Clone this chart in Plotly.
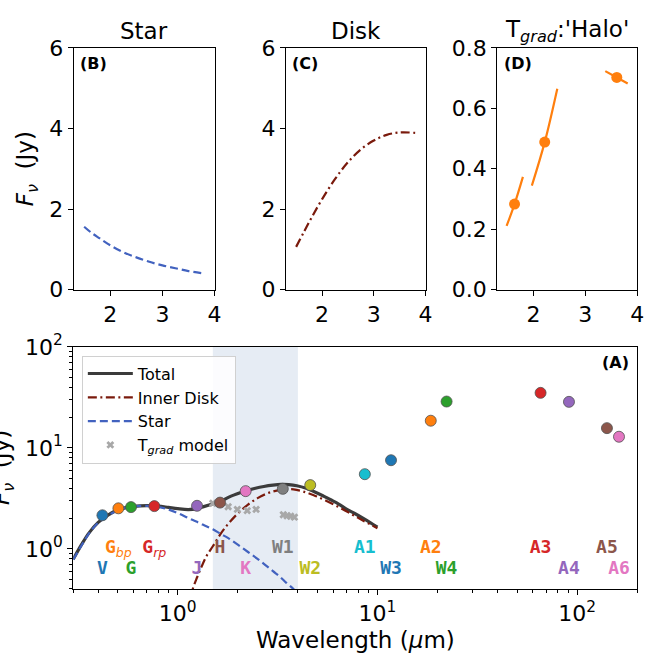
import plotly.graph_objects as go

# ---------------- data ----------------
SUBSTY = '<span style="font-family:DejaVu Sans;font-weight:normal"><i>{}</i></span>'
band_labels = ["V", "G<sub>" + SUBSTY.format("bp") + "</sub>", "G", "G<sub>" + SUBSTY.format("rp") + "</sub>",
               "J", "H", "K", "W1", "W2", "A1", "W3", "A2", "W4", "A3", "A4", "A5", "A6"]
band_wl = [0.42, 0.505, 0.584, 0.764, 1.25, 1.63, 2.19, 3.36, 4.61, 8.65, 11.7, 18.5, 22.2, 65.6, 91.0, 141.0, 162.0]
band_flux = [2.15, 2.52, 2.59, 2.65, 2.67, 2.87, 3.73, 3.93, 4.28, 5.49, 7.55, 18.6, 28.8, 35.1, 28.6, 15.7, 12.9]
band_colors = ["#1f77b4", "#ff7f0e", "#2ca02c", "#d62728", "#9467bd", "#8c564b", "#e377c2", "#7f7f7f",
               "#bcbd22", "#17becf", "#1f77b4", "#ff7f0e", "#2ca02c", "#d62728", "#9467bd", "#8c564b", "#e377c2"]
band_label_y = [0.62, 1.0, 0.62, 1.0, 0.62, 1.0, 0.62, 1.0, 0.62, 1.0, 0.62, 1.0, 0.62, 1.0, 0.62, 1.0, 0.62]

total_wl = [0.30, 0.33, 0.36, 0.40, 0.45, 0.50, 0.55, 0.60, 0.70, 0.80, 0.90, 1.00, 1.13, 1.25, 1.35,
            1.50, 1.65, 1.85, 2.15, 2.45, 2.70, 3.00, 3.30, 3.60, 3.95, 4.40, 4.80, 5.30, 5.80, 6.40,
            7.00, 7.70, 8.50, 9.20, 10.0]
total_fl = [0.79, 1.10, 1.44, 1.83, 2.17, 2.42, 2.56, 2.63, 2.68, 2.65, 2.57, 2.50, 2.45, 2.50, 2.62,
            2.80, 2.98, 3.33, 3.70, 3.98, 4.15, 4.28, 4.35, 4.33, 4.22, 3.98, 3.70, 3.38, 3.08, 2.78,
            2.48, 2.24, 2.00, 1.82, 1.64]

disk_wl = [1.15, 1.19, 1.25, 1.31, 1.40, 1.50, 1.65, 1.80, 2.00, 2.25, 2.50, 2.75, 3.00, 3.25, 3.50,
           3.80, 4.20, 4.80, 5.50, 6.50, 7.50, 8.50, 10.0]
disk_fl = [0.30, 0.40, 0.52, 0.65, 0.86, 1.06, 1.43, 1.79, 2.24, 2.74, 3.16, 3.48, 3.70, 3.84, 3.90,
           3.89, 3.72, 3.40, 3.02, 2.55, 2.18, 1.90, 1.60]

star_wl = [0.30, 0.33, 0.36, 0.40, 0.45, 0.50, 0.55, 0.60, 0.70, 0.80, 0.90, 1.00, 1.13, 1.25, 1.40,
           1.50, 1.65, 1.80, 2.00, 2.25, 2.50, 2.75, 3.00, 3.25, 3.50, 3.80, 4.00]
star_fl = [0.78, 1.08, 1.42, 1.82, 2.15, 2.40, 2.55, 2.63, 2.66, 2.60, 2.45, 2.26, 2.02, 1.85, 1.66,
           1.56, 1.40, 1.27, 1.10, 0.93, 0.80, 0.69, 0.60, 0.53, 0.46, 0.40, 0.36]

tgrad_wl = [1.50, 1.79, 1.99, 2.23, 2.47, 3.38, 3.53, 3.68, 3.84]
tgrad_fl = [2.83, 2.61, 2.46, 2.39, 2.46, 2.18, 2.13, 2.10, 2.06]

halo_wl = [1.637, 2.218, 3.606]
halo_fl = [0.283, 0.488, 0.702]
halo_seg_wl = [[1.484, 1.637, 1.798], [1.97, 2.218, 2.46], [3.384, 3.606, 3.816]]
halo_seg_fl = [[0.211, 0.283, 0.373], [0.344, 0.488, 0.665], [0.723, 0.702, 0.682]]

zoom_lo, zoom_hi = 1.5, 3.8

# ---------------- style ----------------
W, H = 670, 668
FONT = "DejaVu Sans"
TICK = 22
TITLE = 23
C_TOTAL = "#3b3b3b"
C_DISK = "#7a1a0c"
C_STAR = "#4262bf"
C_HALO = "#ff7f0e"
DASH_STAR = "8px,4px"
DASH_DISK = "9px,3.5px,2px,3.5px"


def px(x):
    return x / W


def py(y):
    return 1 - y / H


fig = go.Figure()

# panel B: star
sel = [i for i, w in enumerate(star_wl) if zoom_lo <= w <= zoom_hi]
fig.add_trace(go.Scatter(x=[star_wl[i] for i in sel], y=[star_fl[i] for i in sel], mode="lines",
                         line=dict(color=C_STAR, width=2.2, dash=DASH_STAR, shape="spline"),
                         xaxis="x", yaxis="y", showlegend=False))
# panel C: disk
sel = [i for i, w in enumerate(disk_wl) if zoom_lo <= w <= zoom_hi]
fig.add_trace(go.Scatter(x=[disk_wl[i] for i in sel], y=[disk_fl[i] for i in sel], mode="lines",
                         line=dict(color=C_DISK, width=2.2, dash=DASH_DISK, shape="spline"),
                         xaxis="x2", yaxis="y2", showlegend=False))
# panel D: halo
for sx, sy in zip(halo_seg_wl, halo_seg_fl):
    fig.add_trace(go.Scatter(x=sx, y=sy, mode="lines", line=dict(color=C_HALO, width=2.2, shape="spline"),
                             xaxis="x3", yaxis="y3", showlegend=False))
fig.add_trace(go.Scatter(x=halo_wl, y=halo_fl, mode="markers", marker=dict(color=C_HALO, size=11),
                         xaxis="x3", yaxis="y3", showlegend=False))

# panel A
fig.add_trace(go.Scatter(x=total_wl, y=total_fl, mode="lines", name="Total",
                         line=dict(color=C_TOTAL, width=3.2, shape="spline"), xaxis="x4", yaxis="y4"))
fig.add_trace(go.Scatter(x=disk_wl, y=disk_fl, mode="lines", name="Inner Disk",
                         line=dict(color=C_DISK, width=2.2, dash=DASH_DISK, shape="spline"),
                         xaxis="x4", yaxis="y4"))
fig.add_trace(go.Scatter(x=star_wl, y=star_fl, mode="lines", name="Star",
                         line=dict(color=C_STAR, width=2.2, dash=DASH_STAR, shape="spline"),
                         xaxis="x4", yaxis="y4"))
fig.add_trace(go.Scatter(x=tgrad_wl, y=tgrad_fl, mode="markers", name="T<sub><i>grad</i></sub> model",
                         marker=dict(symbol="x", size=7, color="#a8a8a8", line=dict(width=0)),
                         xaxis="x4", yaxis="y4"))
fig.add_trace(go.Scatter(x=band_wl, y=band_flux, mode="markers", showlegend=False,
                         marker=dict(color=band_colors, size=11, line=dict(color="#505050", width=0.8)),
                         xaxis="x4", yaxis="y4"))
fig.add_trace(go.Scatter(x=band_wl, y=band_label_y, mode="text", text=band_labels, showlegend=False,
                         textposition="middle center",
                         textfont=dict(family="DejaVu Sans Mono", size=18, color=band_colors, weight="bold"),
                         xaxis="x4", yaxis="y4"))

# shaded zoom window
fig.add_shape(type="rect", xref="x4", yref="y4 domain", x0=1.5, x1=4.0, y0=0, y1=1,
              fillcolor="rgba(176,196,222,0.32)", line=dict(width=0), layer="below")

ax_common = dict(showline=True, linecolor="black", linewidth=1, mirror=True, ticks="outside",
                 ticklen=5, tickwidth=1, tickcolor="black", showgrid=False, zeroline=False,
                 tickfont=dict(family=FONT, size=TICK, color="black"))

top_y = [py(286), py(33.3)]
fig.update_layout(
    width=W, height=H, margin=dict(l=0, r=0, t=0, b=0), autosize=False,
    paper_bgcolor="white", plot_bgcolor="white",
    font=dict(family=FONT, color="black"),
    xaxis=dict(domain=[px(74.5), px(216.8)], range=[1.3, 4.0], tickvals=[2, 3, 4], anchor="y", **ax_common),
    yaxis=dict(domain=top_y, range=[0, 6], tickvals=[0, 2, 4, 6], anchor="x", **ax_common),
    xaxis2=dict(domain=[px(288.8), px(430)], range=[1.3, 4.0], tickvals=[2, 3, 4], anchor="y2", **ax_common),
    yaxis2=dict(domain=top_y, range=[0, 6], tickvals=[0, 2, 4, 6], anchor="x2", **ax_common),
    xaxis3=dict(domain=[px(502.3), px(644)], range=[1.3, 4.0], tickvals=[2, 3, 4], anchor="y3", **ax_common),
    yaxis3=dict(domain=top_y, range=[0, 0.8], tickvals=[0, 0.2, 0.4, 0.6, 0.8], tickformat=".1f",
                anchor="x3", **ax_common),
    xaxis4=dict(domain=[px(74), px(644)], type="log", range=[-0.5229, 2.30103], anchor="y4",
                tickvals=[1, 10, 100], ticktext=["10<sup>0</sup>", "10<sup>1</sup>", "10<sup>2</sup>"],
                minor=dict(tickvals=[0.3, 0.4, 0.5, 0.6, 0.7, 0.8, 0.9, 2, 3, 4, 5, 6, 7, 8, 9,
                                     20, 30, 40, 50, 60, 70, 80, 90, 200],
                           ticks="outside", ticklen=3, tickcolor="black"),
                **ax_common),
    yaxis4=dict(domain=[py(599), py(346)], type="log", range=[-0.39794, 2], anchor="x4",
                tickvals=[1, 10, 100], ticktext=["10<sup>0</sup>", "10<sup>1</sup>", "10<sup>2</sup>"],
                minor=dict(tickvals=[0.4, 0.5, 0.6, 0.7, 0.8, 0.9, 2, 3, 4, 5, 6, 7, 8, 9,
                                     20, 30, 40, 50, 60, 70, 80, 90],
                           ticks="outside", ticklen=3, tickcolor="black"),
                **ax_common),
    legend=dict(x=px(82.7), y=py(355), xanchor="left", yanchor="top", itemwidth=45,
                bgcolor="rgba(255,255,255,0.85)", bordercolor="#d0d0d0", borderwidth=1,
                font=dict(family=FONT, size=16, color="black")),
)

ylab = "<i>F</i><sub><i>ν</i></sub>\u00a0\u00a0(Jy)"
ann_base = dict(xref="paper", yref="paper", showarrow=False, xanchor="center", yanchor="middle")
ann = [
    dict(text="Star", x=(px(74.5) + px(216.8)) / 2, y=py(15.3), font=dict(size=TITLE), **ann_base),
    dict(text="Disk", x=(px(288.8) + px(430)) / 2, y=py(15.3), font=dict(size=TITLE), **ann_base),
    dict(text="T<sub><i>grad</i></sub>:'Halo'", x=(px(502.3) + px(644)) / 2, y=py(15.3),
         font=dict(size=TITLE), **ann_base),
    dict(text="<b>(B)</b>", x=px(79.3), y=py(50), xref="paper", yref="paper", xanchor="left",
         yanchor="middle", showarrow=False, font=dict(size=16)),
    dict(text="<b>(C)</b>", x=px(293.3), y=py(50), xref="paper", yref="paper", xanchor="left",
         yanchor="middle", showarrow=False, font=dict(size=16)),
    dict(text="<b>(D)</b>", x=px(506.8), y=py(50), xref="paper", yref="paper", xanchor="left",
         yanchor="middle", showarrow=False, font=dict(size=16)),
    dict(text="<b>(A)</b>", x=px(638), y=py(362), xref="paper", yref="paper", xanchor="right",
         yanchor="middle", showarrow=False, font=dict(size=16)),
    dict(text=ylab, x=px(27.5), y=py(160), textangle=-90, font=dict(size=TITLE), **ann_base),
    dict(text=ylab, x=px(2.5), y=py(472), textangle=-90, font=dict(size=TITLE), **ann_base),
    dict(text="Wavelength (<i>μ</i>m)", x=px(359), y=py(652), font=dict(size=TITLE), **ann_base),
]
fig.update_layout(annotations=ann)

fig.write_html("out.html")
